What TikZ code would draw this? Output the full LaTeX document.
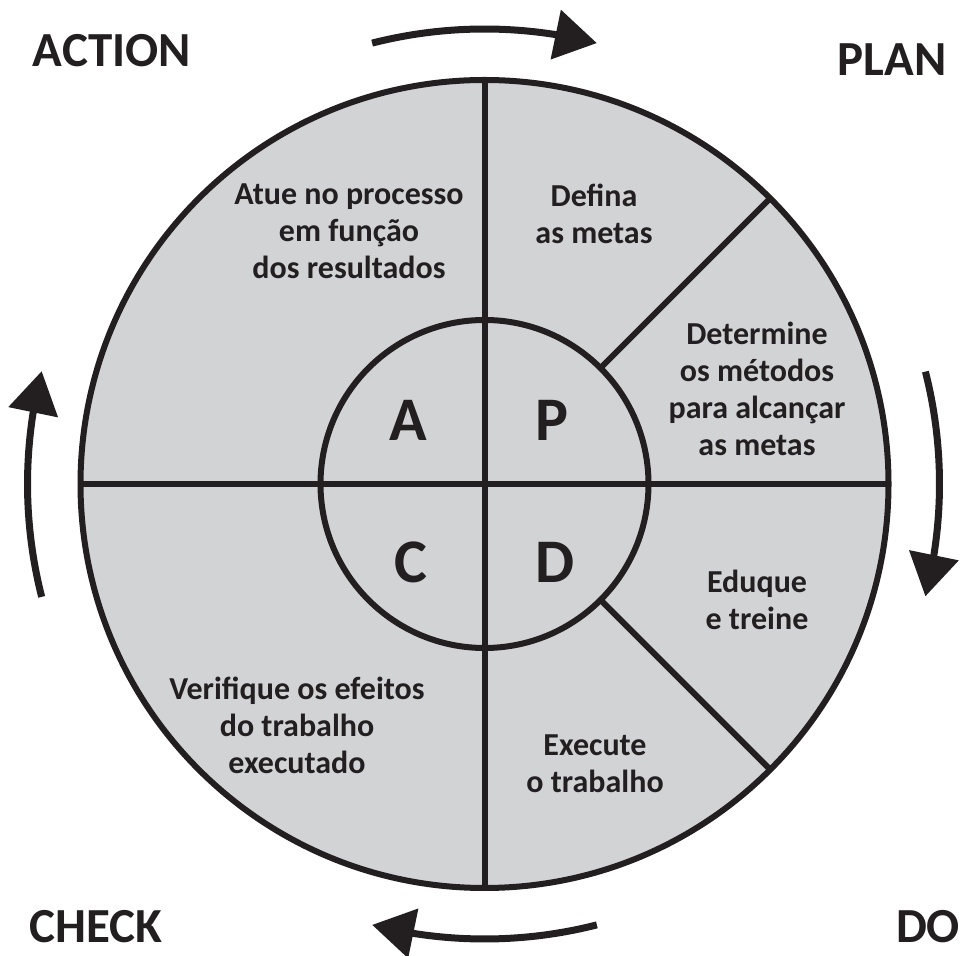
\documentclass[tikz,border=0pt]{standalone}
\usepackage{fontspec}
\setmainfont{Carlito}
\usetikzlibrary{arrows.meta,bending,calc}
\definecolor{ink}{HTML}{231F20}
\definecolor{wedge}{HTML}{D1D3D4}
\begin{document}
\begin{tikzpicture}[x=1pt,y=1pt,
  body/.style={font=\bfseries\fontsize{32}{37}\selectfont, text=ink, align=center, inner sep=0pt},
  big/.style={font=\bfseries\fontsize{49}{55}\selectfont, text=ink, inner sep=0pt},
  letter/.style={font=\bfseries\fontsize{62}{70}\selectfont, text=ink, inner sep=0pt},
  ring/.style={draw=ink, line width=6pt},
  cyc/.style={draw=ink, line width=7pt, -{Triangle[length=42pt,width=49pt,flex]}}]
\useasboundingbox (0,0) rectangle (965,955);
\coordinate (O) at (484.5,471);
\coordinate (T) at ($(O)+(90:404)$);
\coordinate (B) at ($(O)+(-90:404)$);
\coordinate (L) at ($(O)+(180:404)$);
\coordinate (R) at ($(O)+(0:404)$);
\coordinate (i1) at ($(O)+(45:164)$);
\coordinate (o1) at ($(O)+(45:404)$);
\coordinate (i2) at ($(O)+(-45:164)$);
\coordinate (o2) at ($(O)+(-45:404)$);
\fill[wedge] (O) circle[radius=404];
\draw[ring] (T) -- (B);
\draw[ring] (L) -- (R);
\draw[ring] (i1) -- (o1);
\draw[ring] (i2) -- (o2);
\draw[ring] (O) circle[radius=164];
\draw[ring] (O) circle[radius=404];
% cycle arrows
\draw[cyc] ($(O)+(104.3:455)$) arc[start angle=104.3, end angle=75.7, radius=455];
\draw[cyc] ($(O)+(14.3:455)$) arc[start angle=14.3, end angle=-14.3, radius=455];
\draw[cyc] ($(O)+(-75.7:455)$) arc[start angle=-75.7, end angle=-104.3, radius=455];
\draw[cyc] ($(O)+(-165.7:457)$) arc[start angle=-165.7, end angle=-194.3, radius=457];
% corner labels
\node[big] (action) at (112,904) {ACTION};
\node[big] (plan) at (892,895) {PLAN};
\node[big] (check) at (96,28) {CHECK};
\node[big] (do) at (928,28) {DO};
% letters
\node[letter] (la) at (408,535) {A};
\node[letter] (lp) at (552,535) {P};
\node[letter] (lc) at (411,393) {C};
\node[letter] (ld) at (555,393) {D};
% texts
\node[body] (atue) at (349,724) {Atue no processo\\em função\\dos resultados};
\node[body] (defina) at (594,741) {Defina\\as metas};
\node[body] (determine) at (757,566) {Determine\\os métodos\\para alcançar\\as metas};
\node[body] (eduque) at (757,355.5) {Eduque\\e treine};
\node[body] (execute) at (595,191) {Execute\\o trabalho};
\node[body] (verifique) at (297,230) {Verifique os efeitos\\do trabalho\\executado};
\end{tikzpicture}
\end{document}
